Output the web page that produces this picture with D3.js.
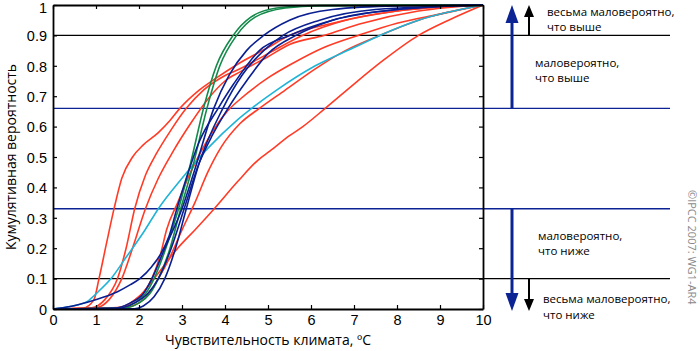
<!DOCTYPE html>
<html>
<head>
<meta charset="utf-8">
<script src="https://cdn.jsdelivr.net/npm/d3@7"></script>
<style>
  body { margin: 0; background: #fff; }
  svg { display: block; }
</style>
</head>
<body>
<div id="chart"></div>
<script>
// cumulative distributions of climate sensitivity as [x, p]
var redCurves = [
  [[0,0],[0.7,0.003],[0.95,0.03],[1.07,0.1],[1.25,0.22],[1.42,0.33],[1.6,0.43],[1.85,0.5],[2.1,0.54],[2.45,0.58],[2.72,0.62],[2.95,0.66],[3.4,0.72],[3.8,0.76],[4.35,0.81],[5.0,0.86],[5.5,0.9],[6.5,0.94],[8,0.98],[10,1]],
  [[0,0],[0.9,0.004],[1.2,0.03],[1.5,0.1],[1.7,0.2],[1.9,0.33],[2.15,0.44],[2.4,0.51],[2.75,0.59],[3.1,0.66],[3.5,0.72],[3.9,0.76],[4.35,0.79],[5.0,0.84],[5.8,0.9],[6.8,0.95],[8,0.98],[10,1]],
  [[0,0],[1.0,0.004],[1.3,0.03],[1.6,0.1],[1.85,0.2],[2.15,0.33],[2.45,0.43],[2.8,0.52],[3.2,0.61],[3.6,0.69],[4.0,0.75],[4.35,0.78],[5.0,0.83],[5.5,0.87],[6.3,0.9],[7.2,0.94],[8.5,0.98],[10,1]],
  [[0,0],[1.5,0.003],[1.9,0.03],[2.3,0.1],[2.5,0.18],[2.64,0.26],[2.9,0.35],[3.2,0.45],[3.65,0.57],[4.05,0.65],[4.35,0.69],[5.0,0.76],[5.6,0.81],[6.3,0.86],[7.1,0.9],[8.0,0.94],[9,0.97],[10,1]],
  [[0,0],[1.6,0.003],[2.1,0.03],[2.45,0.1],[2.75,0.18],[3.0,0.26],[3.3,0.35],[3.6,0.45],[3.9,0.53],[4.35,0.61],[4.8,0.66],[5.4,0.72],[6.1,0.79],[6.8,0.85],[7.6,0.9],[8.5,0.95],[10,1]],
  [[0,0],[1.5,0.005],[2.0,0.04],[2.35,0.1],[2.9,0.2],[3.3,0.26],[3.75,0.33],[4.3,0.42],[4.77,0.49],[5.05,0.52],[5.5,0.57],[5.81,0.6],[6.33,0.66],[7,0.74],[7.7,0.82],[8.5,0.9],[9.2,0.95],[10,1]]
];
var blueCurves = [
  [[0,0],[0.4,0.008],[0.8,0.022],[1.2,0.04],[1.5,0.057],[1.8,0.08],[2.02,0.1],[2.3,0.14],[2.5,0.18],[2.7,0.24],[2.88,0.33],[3.1,0.43],[3.4,0.55],[3.84,0.66],[4.2,0.74],[4.8,0.85],[5.5,0.9],[6.5,0.95],[8,0.985],[10,1]],
  [[0,0],[1.4,0.002],[1.8,0.02],[2.1,0.05],[2.3,0.1],[2.6,0.2],[3.0,0.33],[3.3,0.46],[3.74,0.66],[4.1,0.77],[4.5,0.85],[4.9,0.9],[5.5,0.95],[6.5,0.985],[8,0.997],[10,1]],
  [[0,0],[1.5,0.002],[1.9,0.02],[2.2,0.05],[2.45,0.1],[2.75,0.2],[3.05,0.33],[3.4,0.48],[3.7,0.57],[4.07,0.66],[4.5,0.75],[5.0,0.84],[5.65,0.9],[6.5,0.95],[8,0.985],[10,1]],
  [[0,0],[1.9,0.001],[2.1,0.01],[2.35,0.04],[2.6,0.1],[2.85,0.2],[3.1,0.33],[3.4,0.48],[3.95,0.66],[4.4,0.77],[4.9,0.85],[5.35,0.9],[6.2,0.95],[7.5,0.985],[10,1]]
];
var greenCurves = [
  [[0,0],[1.5,0.002],[1.9,0.02],[2.15,0.05],[2.35,0.1],[2.6,0.19],[2.92,0.33],[3.2,0.48],[3.5,0.66],[3.8,0.8],[4.19,0.9],[4.6,0.96],[5.2,0.99],[6,0.998],[10,1]],
  [[0,0],[1.6,0.002],[2.0,0.02],[2.25,0.05],[2.45,0.1],[2.7,0.19],[2.97,0.33],[3.27,0.48],[3.58,0.66],[3.88,0.8],[4.27,0.9],[4.7,0.96],[5.4,0.99],[6.2,0.998],[10,1]]
];
var cyanCurves = [
  [[0,0],[0.4,0.008],[0.8,0.025],[1.0,0.05],[1.35,0.1],[1.7,0.17],[2.14,0.26],[2.45,0.33],[3.0,0.43],[3.61,0.53],[4.27,0.62],[4.62,0.66],[5.2,0.72],[6.1,0.8],[7.0,0.86],[7.6,0.9],[8.5,0.95],[10,1]]
];

var xTicks = [0, 1, 2, 3, 4, 5, 6, 7, 8, 9, 10];
var yTicks = [0, 0.1, 0.2, 0.3, 0.4, 0.5, 0.6, 0.7, 0.8, 0.9, 1];
var yTickLabels = ["0", "0.1", "0.2", "0.3", "0.4", "0.5", "0.6", "0.7", "0.8", "0.9", "1"];

var blackLevels = [0.9, 0.1];
var blueLevels = [0.66, 0.33];

var xTitle = "Чувствительность климата, ºC";
var yTitle = "Кумулятивная вероятность";
var notes = [
  ["весьма маловероятно,", "что выше"],
  ["маловероятно,", "что выше"],
  ["маловероятно,", "что ниже"],
  ["весьма маловероятно,", "что ниже"]
];
var credit = "©IPCC 2007: WG1-AR4";

var pxX = 700, pxY = 351;
var svg = d3.select("#chart").append("svg")
  .attr("width", pxX)
  .attr("height", pxY);

var scX = d3.scaleLinear().domain([0, 10]).range([53, 483]);
var scY = d3.scaleLinear().domain([0, 1]).range([309, 5]);
var lineEnd = 670;

var NAVY = "#0b2393";
var tickFont = "'Liberation Sans', Arial, sans-serif";
var textFont = "'Open Sans', 'Noto Sans', sans-serif";

// --- threshold lines ---
svg.append("g").selectAll("line")
  .data(blackLevels)
  .enter().append("line")
  .attr("x1", scX(0)).attr("x2", lineEnd)
  .attr("y1", d => scY(d)).attr("y2", d => scY(d))
  .attr("stroke", "#000").attr("stroke-width", 1.4);

svg.append("g").selectAll("line")
  .data(blueLevels)
  .enter().append("line")
  .attr("x1", scX(0)).attr("x2", lineEnd)
  .attr("y1", d => scY(d)).attr("y2", d => scY(d))
  .attr("stroke", NAVY).attr("stroke-width", 1.4);

// --- curves ---
var lnMkr = d3.line()
  .curve(d3.curveMonotoneX)
  .x(d => scX(d[0]))
  .y(d => scY(d[1]));

var drawSet = function(g, data, color) {
  g.selectAll("path")
    .data(data)
    .enter().append("path")
    .attr("fill", "none")
    .attr("stroke", color)
    .attr("stroke-width", 1.6)
    .attr("d", lnMkr);
};

svg.append("g").call(drawSet, redCurves, "#ff3b26");
svg.append("g").call(drawSet, cyanCurves, "#1fb4d6");
svg.append("g").call(drawSet, greenCurves, "#13894a");
svg.append("g").call(drawSet, blueCurves, "#0a1f91");

// --- frame and axes ---
var styleAxis = function(g) {
  g.select(".domain").attr("stroke", "#000").attr("stroke-width", 1.8);
  g.selectAll(".tick line").attr("stroke", "#000").attr("stroke-width", 1.2);
  g.selectAll("text").attr("fill", "#000").style("font-family", tickFont).style("font-size", "14.5px");
};

svg.append("g")
  .attr("transform", `translate(0, ${scY(0)})`)
  .call(d3.axisBottom(scX).tickValues(xTicks).tickFormat(d3.format("d"))
    .tickSizeInner(-4).tickSizeOuter(0).tickPadding(6))
  .call(styleAxis);
svg.append("g")
  .attr("transform", `translate(0, ${scY(1)})`)
  .call(d3.axisTop(scX).tickValues(xTicks).tickFormat("")
    .tickSizeInner(-4).tickSizeOuter(0))
  .call(styleAxis);
svg.append("g")
  .attr("transform", `translate(${scX(0)}, 0)`)
  .call(d3.axisLeft(scY).tickValues(yTicks).tickFormat((d, i) => yTickLabels[i])
    .tickSizeInner(-4).tickSizeOuter(0).tickPadding(6))
  .call(styleAxis)
  .call(g => g.selectAll("text").attr("dy", d => d === 1 ? "0.5em" : "0.36em"));
svg.append("g")
  .attr("transform", `translate(${scX(10)}, 0)`)
  .call(d3.axisRight(scY).tickValues(yTicks).tickFormat("")
    .tickSizeInner(-4).tickSizeOuter(0))
  .call(styleAxis);

// --- titles ---
svg.append("text")
  .attr("x", (scX(0) + scX(10)) / 2)
  .attr("y", 345)
  .attr("text-anchor", "middle")
  .style("font-family", textFont).style("font-size", "14px")
  .text(xTitle);

svg.append("text")
  .attr("transform", `translate(16, ${(scY(0) + scY(1)) / 2}) rotate(-90)`)
  .attr("text-anchor", "middle")
  .style("font-family", textFont).style("font-size", "14px")
  .text(yTitle);

// --- arrows ---
var arrow = function(g, x, yFrom, yTo, color, shaft, headW, headH) {
  var dir = yTo < yFrom ? 1 : -1;
  g.append("line")
    .attr("x1", x).attr("x2", x)
    .attr("y1", yFrom).attr("y2", yTo + dir * headH * 0.8)
    .attr("stroke", color).attr("stroke-width", shaft);
  g.append("path")
    .attr("d", `M${x},${yTo} L${x - headW / 2},${yTo + dir * headH} L${x + headW / 2},${yTo + dir * headH} Z`)
    .attr("fill", color);
};

var ga = svg.append("g");
ga.call(arrow, 512, scY(0.66), scY(1), NAVY, 3, 13, 18);
ga.call(arrow, 512, scY(0.33), scY(0) + 2, NAVY, 3, 13, 18);
ga.call(arrow, 529, scY(0.9), scY(1), "#000", 2, 10, 12);
ga.call(arrow, 529, scY(0.1), scY(0) + 2, "#000", 2, 10, 12);

// --- notes ---
var notePos = [[547, 15.5], [535, 66.5], [538, 239.5], [543, 303]];
var gn = svg.append("g")
  .style("font-family", textFont).style("font-size", "11.5px").attr("fill", "#000");
notes.forEach(function(lines, i) {
  var t = gn.append("text").attr("x", notePos[i][0]).attr("y", notePos[i][1]);
  lines.forEach(function(s, j) {
    t.append("tspan").attr("x", notePos[i][0]).attr("dy", j ? 15.5 : 0).text(s);
  });
});

svg.append("text")
  .attr("transform", "translate(688, 190) rotate(90)")
  .style("font-family", textFont).style("font-size", "11px")
  .attr("fill", "#8a8a8a")
  .text(credit);
</script>
</body>
</html>
